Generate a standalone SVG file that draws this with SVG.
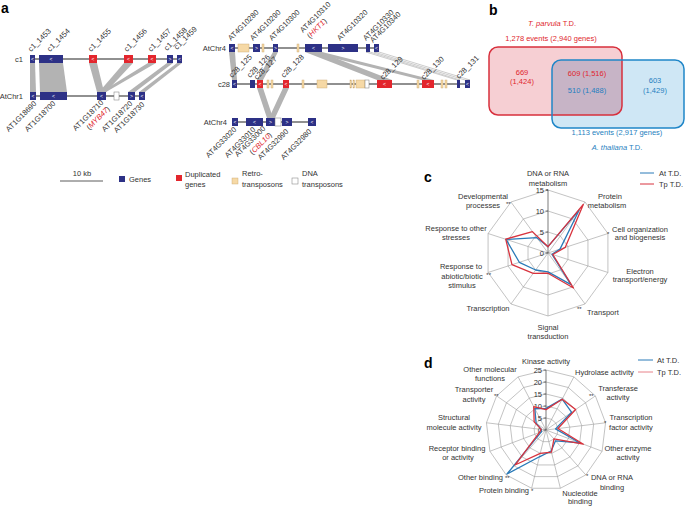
<svg xmlns="http://www.w3.org/2000/svg" width="685" height="506" viewBox="0 0 685 506">
<style>
text{font-family:"Liberation Sans",Arial,sans-serif;}
.t{font-size:7.5px;fill:#333}
.c{text-anchor:middle}
.e{text-anchor:end}
.lab{font-size:14px;font-weight:bold;fill:#000}
.red{fill:#e0262d}
.blu{fill:#1f7fc0}
.gn{fill:#2d3186}
.dup{fill:#e3262d}
.retro{fill:#f6d9a6;stroke:#c9a46c;stroke-width:0.4}
.dna{fill:#fff;stroke:#777;stroke-width:0.5}
.band{fill:#b3b3b3}
.bandw{fill:#fff;stroke:#aaa;stroke-width:0.6}
.chr{stroke:#222;stroke-width:1.2}
.arw{font-size:5px;fill:#fff;text-anchor:middle}
.ring{fill:none;stroke:#9a9a9a;stroke-width:0.6}
.spoke{stroke:#9a9a9a;stroke-width:0.6}
.axis{stroke:#444;stroke-width:0.7}
.at{fill:none;stroke:#2a7ab8;stroke-width:1.3;stroke-linejoin:round}
.tp{fill:none;stroke:#d8333e;stroke-width:1.3;stroke-linejoin:round}
.ast{font-size:6px;fill:#333}
.gl{font-size:7.5px;fill:#333}
</style>

<!-- Panel letters -->
<text class="lab" x="1" y="13">a</text>
<text class="lab" x="489" y="15">b</text>
<text class="lab" x="424" y="182">c</text>
<text class="lab" x="424" y="368">d</text>

<!-- ============ Panel a left ============ -->
<g id="a-left-connectors">
  <polygon class="band" points="30,63 35,63 36,92 30,92"/>
  <polygon class="band" points="39,63 63,63 67,92 40,92"/>
  <polygon class="band" points="89,63 97,63 104,92 97,92"/>
  <polygon class="band" points="124,63 133,63 106,92 99,92"/>
  <polygon class="band" points="148,63 156,63 106,92 101,92"/>
  <polygon class="band" points="167,63 173,63 135,92 128,92"/>
  <polygon class="band" points="177,63 182,63 145,92 139,92"/>
</g>
<g id="row-c1">
  <text class="t e" x="23" y="62">c1</text>
  <line class="chr" x1="30" y1="59" x2="182" y2="59"/>
  <rect class="gn" x="30" y="55" width="5" height="8"/>
  <rect class="gn" x="39" y="55" width="24" height="8"/>
  <rect class="dup" x="89" y="55" width="8" height="8"/>
  <rect class="dup" x="124" y="55" width="9" height="8"/>
  <rect class="dup" x="148" y="55" width="8" height="8"/>
  <rect class="gn" x="167" y="55" width="6" height="8"/>
  <rect class="gn" x="177" y="55" width="5" height="8"/>
  <text class="arw" x="32.5" y="60.7">&lt;</text>
  <text class="arw" x="51" y="60.7">&lt;</text>
  <text class="arw" x="93" y="60.7">&lt;</text>
  <text class="arw" x="128.5" y="60.7">&lt;</text>
  <text class="arw" x="152" y="60.7">&lt;</text>
  <text class="arw" x="170" y="60.7">&gt;</text>
  <text class="arw" x="179.5" y="60.7">&lt;</text>
  <text class="gl" transform="translate(31,52) rotate(-45)">c1_1453</text>
  <text class="gl" transform="translate(50,52) rotate(-45)">c1_1454</text>
  <text class="gl" transform="translate(91,52) rotate(-45)">c1_1455</text>
  <text class="gl" transform="translate(127,52) rotate(-45)">c1_1456</text>
  <text class="gl" transform="translate(151,52) rotate(-45)">c1_1457</text>
  <text class="gl" transform="translate(167,51) rotate(-45)">c1_1458</text>
  <text class="gl" transform="translate(177,50) rotate(-45)">c1_1459</text>
</g>
<g id="row-AtChr1">
  <text class="t e" x="23" y="99">AtChr1</text>
  <line class="chr" x1="30" y1="96" x2="145" y2="96"/>
  <rect class="gn" x="30" y="92" width="6" height="8"/>
  <rect class="gn" x="40" y="92" width="27" height="8"/>
  <rect class="gn" x="97" y="92" width="9" height="8"/>
  <rect class="dna" x="114" y="92" width="5" height="8"/>
  <rect class="gn" x="128" y="92" width="7" height="8"/>
  <rect class="gn" x="139" y="92" width="6" height="8"/>
  <text class="arw" x="33" y="97.7">&lt;</text>
  <text class="arw" x="53.5" y="97.7">&lt;</text>
  <text class="arw" x="101.5" y="97.7">&lt;</text>
  <text class="arw" x="131.5" y="97.7">&gt;</text>
  <text class="arw" x="142" y="97.7">&lt;</text>
  <text class="gl e" transform="translate(37,104) rotate(-45)">AT1G18690</text>
  <text class="gl e" transform="translate(56,104) rotate(-45)">AT1G18700</text>
  <text class="gl e" transform="translate(104,103) rotate(-45)">AT1G18710<tspan x="0" dy="9">(<tspan class="red" font-style="italic">MYB47</tspan>)</tspan></text>
  <text class="gl e" transform="translate(133,104) rotate(-45)">AT1G18720</text>
  <text class="gl e" transform="translate(145,105) rotate(-45)">AT1G18730</text>
</g>

<!-- ============ Panel a right ============ -->
<g id="a-right-connectors">
  <polygon class="band" points="229,52 235,52 237,80 232,80"/>
  <polygon class="band" points="273,52 278,52 263,80 257,80"/>
  <polygon class="band" points="305,52 320,52 392,80 377,80"/>
  <polygon class="band" points="309,52 322,52 434,80 422,80"/>
  <polygon class="bandw" points="366,52 370,52 460,80 457,80"/>
  <polygon class="bandw" points="374,52 379,52 470,80 465,80"/>
  <polygon class="band" points="257,88 263,88 273,118 267,118"/>
  <polygon class="band" points="283,88 289,88 275,118 269,118"/>
</g>
<g id="row-AtChr4-top">
  <text class="t e" x="226" y="51">AtChr4</text>
  <line class="chr" x1="229" y1="48" x2="379" y2="48"/>
  <rect class="gn" x="229" y="44" width="6" height="8"/>
  <rect class="retro" x="238" y="44" width="11" height="8"/>
  <rect class="gn" x="253" y="44" width="7" height="8"/>
  <rect class="retro" x="262" y="44" width="2" height="8"/>
  <rect class="gn" x="273" y="44" width="5" height="8"/>
  <rect class="retro" x="297" y="44" width="2" height="8"/>
  <rect class="gn" x="305" y="44" width="17" height="8"/>
  <rect class="gn" x="328" y="44" width="30" height="8"/>
  <rect class="gn" x="366" y="44" width="4" height="8"/>
  <rect class="gn" x="374" y="44" width="5" height="8"/>
  <text class="arw" x="232" y="49.7">&lt;</text>
  <text class="arw" x="256.5" y="49.7">&gt;</text>
  <text class="arw" x="275.5" y="49.7">&gt;</text>
  <text class="arw" x="313.5" y="49.7">&lt;</text>
  <text class="arw" x="343" y="49.7">&gt;</text>
  <text class="arw" x="376.5" y="49.7">&lt;</text>
  <text class="gl" transform="translate(231,41) rotate(-45)">AT4G10280</text>
  <text class="gl" transform="translate(253,41) rotate(-45)">AT4G10290</text>
  <text class="gl" transform="translate(272,41) rotate(-45)">AT4G10300</text>
  <text class="gl" transform="translate(303,33) rotate(-45)">AT4G10310<tspan x="1" dy="9">(<tspan class="red" font-style="italic">HKT1</tspan>)</tspan></text>
  <text class="gl" transform="translate(340,41) rotate(-45)">AT4G10320</text>
  <text class="gl" transform="translate(366,41) rotate(-45)">AT4G10330</text>
  <text class="gl" transform="translate(373,43) rotate(-45)">AT4G10340</text>
</g>
<g id="row-c28">
  <text class="t e" x="230" y="87">c28</text>
  <line class="chr" x1="232" y1="84" x2="470" y2="84"/>
  <rect class="gn" x="232" y="80" width="5" height="8"/>
  <rect class="gn" x="250" y="80" width="5" height="8"/>
  <rect class="dup" x="257" y="80" width="6" height="8"/>
  <rect class="retro" x="267" y="80" width="2" height="8"/>
  <rect class="retro" x="271" y="80" width="2" height="8"/>
  <rect class="dup" x="283" y="80" width="6" height="8"/>
  <rect class="retro" x="302" y="80" width="2" height="8"/>
  <rect class="retro" x="317" y="80" width="10" height="8"/>
  <rect class="retro" x="350" y="80" width="1.5" height="8"/>
  <rect class="retro" x="353" y="80" width="1.5" height="8"/>
  <rect class="retro" x="356" y="80" width="9" height="8"/>
  <rect class="dna" x="365" y="80" width="4" height="8"/>
  <rect class="dup" x="377" y="80" width="15" height="8"/>
  <rect class="retro" x="417" y="80" width="2" height="8"/>
  <rect class="dup" x="422" y="80" width="12" height="8"/>
  <rect class="retro" x="441" y="80" width="2" height="8"/>
  <rect class="retro" x="445" y="80" width="2" height="8"/>
  <rect class="gn" x="457" y="80" width="3" height="8"/>
  <rect class="gn" x="465" y="80" width="5" height="8"/>
  <text class="arw" x="234.5" y="85.7">&lt;</text>
  <text class="arw" x="260" y="85.7">&lt;</text>
  <text class="arw" x="286" y="85.7">&lt;</text>
  <text class="arw" x="384.5" y="85.7">&lt;</text>
  <text class="arw" x="428" y="85.7">&lt;</text>
  <text class="arw" x="467.5" y="85.7">&lt;</text>
  <text class="gl" transform="translate(232,78) rotate(-45)">c28_125</text>
  <text class="gl" transform="translate(250,78) rotate(-45)">c28_126</text>
  <text class="gl" transform="translate(257,80) rotate(-45)">c28_127</text>
  <text class="gl" transform="translate(284,78) rotate(-45)">c28_128</text>
  <text class="gl" transform="translate(383,80) rotate(-45)">c28_129</text>
  <text class="gl" transform="translate(424,80) rotate(-45)">c28_130</text>
  <text class="gl" transform="translate(459,79) rotate(-45)">c28_131</text>
</g>
<g id="row-AtChr4-bottom">
  <text class="t e" x="227" y="125">AtChr4</text>
  <line class="chr" x1="232" y1="122" x2="316" y2="122"/>
  <rect class="gn" x="232" y="118" width="6" height="8"/>
  <rect class="gn" x="246" y="118" width="17" height="8"/>
  <rect class="gn" x="266" y="118" width="9" height="8"/>
  <rect class="dna" x="275" y="118" width="6" height="8"/>
  <rect class="gn" x="282" y="118" width="10" height="8"/>
  <rect class="gn" x="308" y="118" width="8" height="8"/>
  <text class="arw" x="235" y="123.7">&lt;</text>
  <text class="arw" x="254.5" y="123.7">&lt;</text>
  <text class="arw" x="270.5" y="123.7">&gt;</text>
  <text class="arw" x="287" y="123.7">&gt;</text>
  <text class="arw" x="312" y="123.7">&lt;</text>
  <text class="gl e" transform="translate(237,130) rotate(-45)">AT4G33020</text>
  <text class="gl e" transform="translate(256,130) rotate(-45)">AT4G33010</text>
  <text class="gl e" transform="translate(266,129) rotate(-45)">AT4G33000<tspan x="0" dy="9">(<tspan class="red" font-style="italic">CBL10</tspan>)</tspan></text>
  <text class="gl e" transform="translate(289,132) rotate(-45)">AT4G32990</text>
  <text class="gl e" transform="translate(312,132) rotate(-45)">AT4G32980</text>
</g>

<!-- Legend -->
<g id="legend-a">
  <text class="t c" x="82" y="176">10 kb</text>
  <line x1="60" y1="181" x2="103" y2="181" stroke="#333" stroke-width="0.8"/>
  <rect class="gn" x="119" y="176" width="6" height="6"/>
  <text class="t" x="129" y="182">Genes</text>
  <rect class="dup" x="176" y="175" width="6" height="6"/>
  <text class="t" x="185" y="177">Duplicated</text>
  <text class="t" x="185" y="187">genes</text>
  <rect class="retro" x="232" y="178" width="6" height="6"/>
  <text class="t" x="242" y="176">Retro-</text>
  <text class="t" x="242" y="187">transposons</text>
  <rect class="dna" x="292" y="178" width="6" height="6"/>
  <text class="t" x="302" y="176">DNA</text>
  <text class="t" x="302" y="187">transposons</text>
</g>

<!-- ============ Panel b ============ -->
<defs>
  <clipPath id="clipRed"><rect x="489" y="47" width="133" height="68" rx="9"/></clipPath>
</defs>
<g id="venn-Tp">
  <rect x="489" y="47" width="133" height="68" rx="9" fill="#f6cfd3"/>
</g>
<g id="venn-At">
  <rect x="552" y="60" width="132" height="68" rx="9" fill="#cfe7f5"/>
  <rect x="552" y="60" width="132" height="68" rx="9" fill="#c7b4c6" clip-path="url(#clipRed)"/>
  <rect x="489" y="47" width="133" height="68" rx="9" fill="none" stroke="#d8303d" stroke-width="1.5"/>
  <rect x="552" y="60" width="132" height="68" rx="9" fill="none" stroke="#1f86c8" stroke-width="1.5"/>
</g>
<g id="venn-text">
  <text class="t c red" x="552" y="26"><tspan font-style="italic">T. parvula</tspan> T.D.</text>
  <text class="t c red" x="551" y="41">1,278 events (2,940 genes)</text>
  <text class="t c red" x="522" y="75">669</text>
  <text class="t c red" x="522" y="84">(1,424)</text>
  <text class="t c red" x="587" y="76">609 (1,516)</text>
  <text class="t c blu" x="587" y="93">510 (1,488)</text>
  <text class="t c blu" x="655" y="83">603</text>
  <text class="t c blu" x="655" y="93">(1,429)</text>
  <text class="t c blu" x="617" y="135">1,113 events (2,917 genes)</text>
  <text class="t c blu" x="617" y="150"><tspan font-style="italic">A. thaliana</tspan> T.D.</text>
</g>

<!-- ============ Panel c ============ -->
<g id="radar-c-grid">
  <polygon class="ring" points="548,190 585.03,202.03 607.92,233.53 607.92,272.47 585.03,303.97 548,316 510.97,303.97 488.08,272.47 488.08,233.53 510.97,202.03"/>
  <polygon class="ring" points="548,211 572.69,219.02 587.95,240.02 587.95,265.98 572.69,286.98 548,295 523.31,286.98 508.05,265.98 508.05,240.02 523.31,219.02"/>
  <polygon class="ring" points="548,232 560.34,236.01 567.97,246.51 567.97,259.49 560.34,269.99 548,274 535.66,269.99 528.03,259.49 528.03,246.51 535.66,236.01"/>
  <line class="spoke" x1="548" y1="253" x2="585.03" y2="202.03"/>
  <line class="spoke" x1="548" y1="253" x2="607.92" y2="233.53"/>
  <line class="spoke" x1="548" y1="253" x2="607.92" y2="272.47"/>
  <line class="spoke" x1="548" y1="253" x2="585.03" y2="303.97"/>
  <line class="spoke" x1="548" y1="253" x2="548" y2="316"/>
  <line class="spoke" x1="548" y1="253" x2="510.97" y2="303.97"/>
  <line class="spoke" x1="548" y1="253" x2="488.08" y2="272.47"/>
  <line class="spoke" x1="548" y1="253" x2="488.08" y2="233.53"/>
  <line class="spoke" x1="548" y1="253" x2="510.97" y2="202.03"/>
  <line class="axis" x1="548" y1="253" x2="548" y2="190"/>
  <path class="axis" d="M545.5,253H548M545.5,232H548M545.5,211H548M545.5,190H548"/>
  <text class="t e" x="544" y="256">0</text>
  <text class="t e" x="544" y="235">5</text>
  <text class="t e" x="544" y="214">10</text>
  <text class="t e" x="544" y="193">15</text>
</g>
<g id="radar-c-data">
  <polygon class="at" points="548,246.7 579.1,210.2 560,249.1 552,254.3 571,284.6 548,271.9 535.7,270 519.3,262.3 506.1,239.4 536.9,237.7"/>
  <polygon class="tp" points="548,246.7 583.3,204.4 565.2,247.4 552.8,254.5 573.5,288 548,273.2 533.2,273.4 512,264.7 505.7,239.2 532.4,231.6"/>
</g>
<g id="radar-c-labels">
  <text class="t c" x="548" y="176">DNA or RNA</text>
  <text class="t c" x="548" y="185.5">metabolism</text>
  <text class="ast" x="546" y="193">*</text>
  <text class="t c" x="610" y="199">Protein</text>
  <text class="t c" x="607" y="208">metabolism</text>
  <text class="ast" x="607" y="236">*</text>
  <text class="t c" x="640" y="232">Cell organization</text>
  <text class="t c" x="640" y="240">and biogenesis</text>
  <text class="t c" x="640" y="274">Electron</text>
  <text class="t c" x="640" y="282">transport/energy</text>
  <text class="ast" x="577" y="311">**</text>
  <text class="t" x="587" y="315">Transport</text>
  <text class="t c" x="548" y="330">Signal</text>
  <text class="t c" x="548" y="339">transduction</text>
  <text class="t c" x="488" y="311">Transcription</text>
  <text class="ast e" x="491" y="277">**</text>
  <text class="t c" x="461" y="269">Response to</text>
  <text class="t c" x="462" y="278.5">abiotic/biotic</text>
  <text class="t c" x="462" y="288">stimulus</text>
  <text class="t c" x="456" y="231">Response to other</text>
  <text class="t c" x="456" y="240">stresses</text>
  <text class="t c" x="483" y="199">Developmental</text>
  <text class="t c" x="483" y="208">processes</text>
  <text class="ast" x="506" y="206">**</text>
</g>
<g id="legend-c">
  <line x1="640" y1="173" x2="654" y2="173" stroke="#2a7ab8" stroke-width="1"/>
  <text class="t" x="659" y="176">At T.D.</text>
  <line x1="640" y1="184" x2="654" y2="184" stroke="#d8333e" stroke-width="1"/>
  <text class="t" x="659" y="187">Tp T.D.</text>
</g>

<!-- ============ Panel d ============ -->
<g id="radar-d-grid">
  <polygon class="ring" points="546,370 573.88,376.87 595.38,395.91 605.56,422.77 602.1,451.28 585.79,474.91 560.36,488.25 531.64,488.25 506.21,474.91 489.9,451.28 486.44,422.77 496.62,395.91 518.12,376.87"/>
  <polygon class="ring" points="546,382 568.31,387.5 585.5,402.73 593.65,424.22 590.88,447.02 577.83,465.93 557.49,476.6 534.51,476.6 514.17,465.93 501.12,447.02 498.35,424.22 506.5,402.73 523.69,387.5"/>
  <polygon class="ring" points="546,394 562.73,398.12 575.63,409.55 581.74,425.66 579.66,442.77 569.87,456.95 554.61,464.95 537.39,464.95 522.13,456.95 512.34,442.77 510.26,425.66 516.37,409.55 529.27,398.12"/>
  <polygon class="ring" points="546,406 557.15,408.75 565.75,416.37 569.82,427.11 568.44,438.51 561.91,447.96 551.74,453.3 540.26,453.3 530.09,447.96 523.56,438.51 522.18,427.11 526.25,416.37 534.85,408.75"/>
  <polygon class="ring" points="546,418 551.58,419.37 555.88,423.18 557.91,428.55 557.22,434.26 553.96,438.98 548.87,441.65 543.13,441.65 538.04,438.98 534.78,434.26 534.09,428.55 536.12,423.18 540.42,419.37"/>
  <line class="spoke" x1="546" y1="430" x2="573.88" y2="376.87"/>
  <line class="spoke" x1="546" y1="430" x2="595.38" y2="395.91"/>
  <line class="spoke" x1="546" y1="430" x2="605.56" y2="422.77"/>
  <line class="spoke" x1="546" y1="430" x2="602.1" y2="451.28"/>
  <line class="spoke" x1="546" y1="430" x2="585.79" y2="474.91"/>
  <line class="spoke" x1="546" y1="430" x2="560.36" y2="488.25"/>
  <line class="spoke" x1="546" y1="430" x2="531.64" y2="488.25"/>
  <line class="spoke" x1="546" y1="430" x2="506.21" y2="474.91"/>
  <line class="spoke" x1="546" y1="430" x2="489.9" y2="451.28"/>
  <line class="spoke" x1="546" y1="430" x2="486.44" y2="422.77"/>
  <line class="spoke" x1="546" y1="430" x2="496.62" y2="395.91"/>
  <line class="spoke" x1="546" y1="430" x2="518.12" y2="376.87"/>
  <line class="axis" x1="546" y1="430" x2="546" y2="370"/>
  <path class="axis" d="M543.5,430H546M543.5,418H546M543.5,406H546M543.5,394H546M543.5,382H546M543.5,370H546"/>
  <text class="t e" x="542" y="433">0</text>
  <text class="t e" x="542" y="421">5</text>
  <text class="t e" x="542" y="409">10</text>
  <text class="t e" x="542" y="397">15</text>
  <text class="t e" x="542" y="385">20</text>
  <text class="t e" x="542" y="373">25</text>
</g>
<g id="radar-d-data">
  <polygon class="at" points="546,408.4 562.17,399.18 571.68,412.28 555.53,428.84 579.66,442.77 555.55,440.78 551.17,450.97 539.4,456.8 507.01,474.01 541.51,431.7 541.24,429.42 536.12,423.18 534.85,408.75"/>
  <polygon class="tp" points="546,409.6 562.17,399.18 575.63,409.55 557.91,428.55 583.4,444.18 553.96,438.98 551.46,452.14 540.26,453.3 514.97,465.03 539.27,432.55 541.24,429.42 534.15,421.82 533.73,406.62"/>
</g>
<g id="radar-d-labels">
  <text class="t c" x="546" y="364">Kinase activity</text>
  <text class="t" x="575" y="375">Hydrolase activity</text>
  <text class="t c" x="618" y="391">Transferase</text>
  <text class="t c" x="618" y="400">activity</text>
  <text class="ast" x="589" y="398">**</text>
  <text class="t c" x="631" y="420">Transcription</text>
  <text class="t c" x="631" y="429.5">factor activity</text>
  <text class="ast" x="604" y="425">*</text>
  <text class="t c" x="628" y="451">Other enzyme</text>
  <text class="t c" x="628" y="460">activity</text>
  <text class="ast" x="586" y="478">*</text>
  <text class="t c" x="612" y="480">DNA or RNA</text>
  <text class="t c" x="612" y="489.5">binding</text>
  <text class="t c" x="580" y="496">Nucleotide</text>
  <text class="t c" x="580" y="504">binding</text>
  <text class="t e" x="529" y="493">Protein binding</text>
  <text class="ast" x="531" y="493">*</text>
  <text class="t e" x="503" y="480">Other binding</text>
  <text class="ast" x="505" y="480">**</text>
  <text class="t c" x="457" y="451">Receptor binding</text>
  <text class="t c" x="458" y="460">or activity</text>
  <text class="t c" x="454" y="420">Structural</text>
  <text class="t c" x="454" y="429.5">molecule activity</text>
  <text class="t c" x="474" y="392">Transporter</text>
  <text class="t c" x="474" y="401.5">activity</text>
  <text class="ast" x="494" y="398">**</text>
  <text class="t c" x="490" y="372">Other molecular</text>
  <text class="t c" x="490" y="381">functions</text>
</g>
<g id="legend-d">
  <line x1="638" y1="360" x2="653" y2="360" stroke="#2a7ab8" stroke-width="1"/>
  <text class="t" x="657" y="363">At T.D.</text>
  <line x1="638" y1="372" x2="653" y2="372" stroke="#e8828a" stroke-width="1"/>
  <text class="t" x="657" y="375">Tp T.D.</text>
</g>
</svg>
